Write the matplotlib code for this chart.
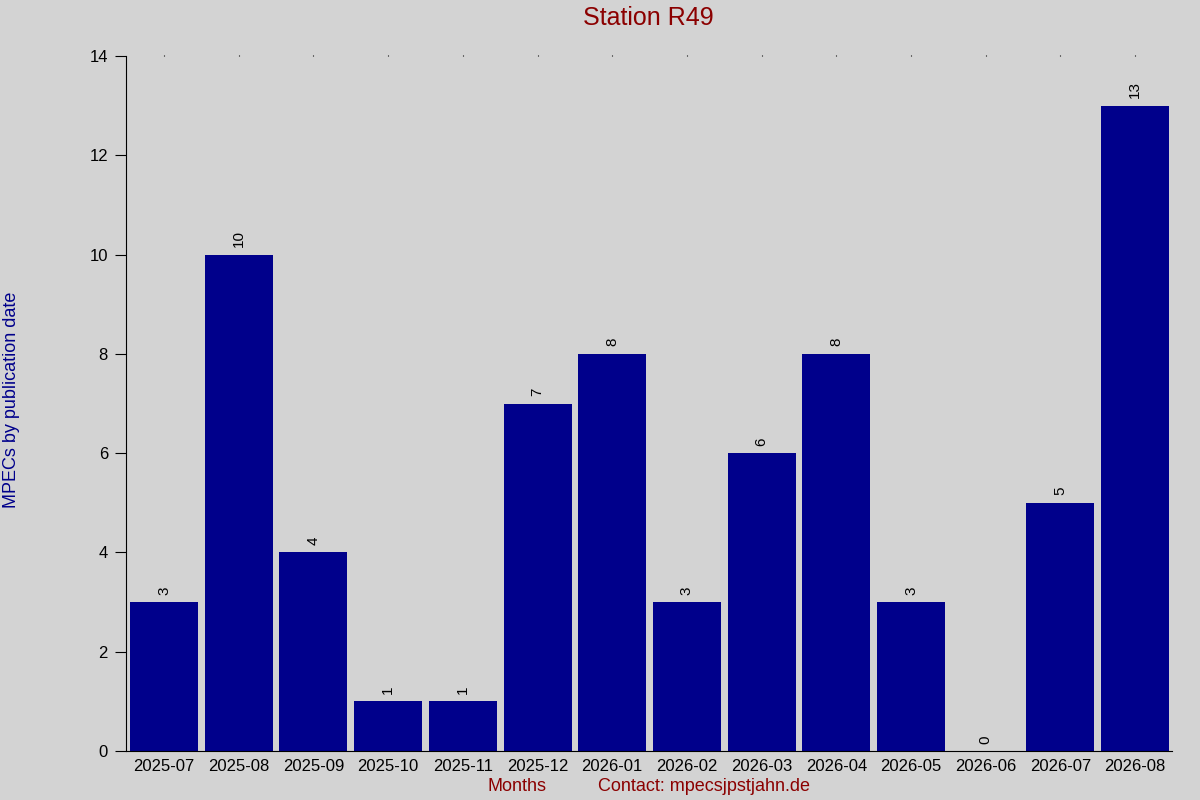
import matplotlib.pyplot as plt

plt.rcParams['font.family'] = ['Liberation Sans', 'DejaVu Sans']

# Data
months = ['2025-07', '2025-08', '2025-09', '2025-10', '2025-11', '2025-12', '2026-01',
          '2026-02', '2026-03', '2026-04', '2026-05', '2026-06', '2026-07', '2026-08']
counts = [3, 10, 4, 1, 1, 7, 8, 3, 6, 8, 3, 0, 5, 13]
yticks = [0, 2, 4, 6, 8, 10, 12, 14]

bg = '#d3d3d3'
fig = plt.figure(figsize=(12, 8), dpi=100, facecolor=bg)
ax = fig.add_axes([0.105, 0.06125, 0.872, 0.86875], facecolor=bg)

x = list(range(len(months)))
bars = ax.bar(x, counts, width=0.91, color='#00008b')
for xi, v in zip(x, counts):
    ax.text(xi, v + 0.15, str(v), rotation=90, ha='center', va='bottom', fontsize=11)

ax.set_xlim(-0.51, len(months) - 0.5)
ax.set_ylim(0, 14)
ax.set_yticks(yticks)
ax.set_xticks(x)
ax.set_xticklabels(months)

for side in ['top', 'right']:
    ax.spines[side].set_visible(False)
ax.tick_params(axis='y', length=8, labelsize=12, pad=5)
ax.tick_params(axis='x', labelsize=12, pad=5, top=True, bottom=False, length=1, width=0.8)

fig.text(0.54, 0.978, 'Station R49', ha='center', va='center', fontsize=18, color='#8b0000')
fig.text(0.01, 0.5, 'MPECs by publication date', rotation=90, ha='center', va='center',
         fontsize=13, color='#00008b')
fig.text(0.431, 0.017, 'Months', ha='center', va='center', fontsize=13, color='#8b0000')
fig.text(0.587, 0.017, 'Contact: mpecsjpstjahn.de', ha='center', va='center', fontsize=13,
         color='#8b0000')

fig.savefig('out.png', dpi=100, facecolor=bg)
